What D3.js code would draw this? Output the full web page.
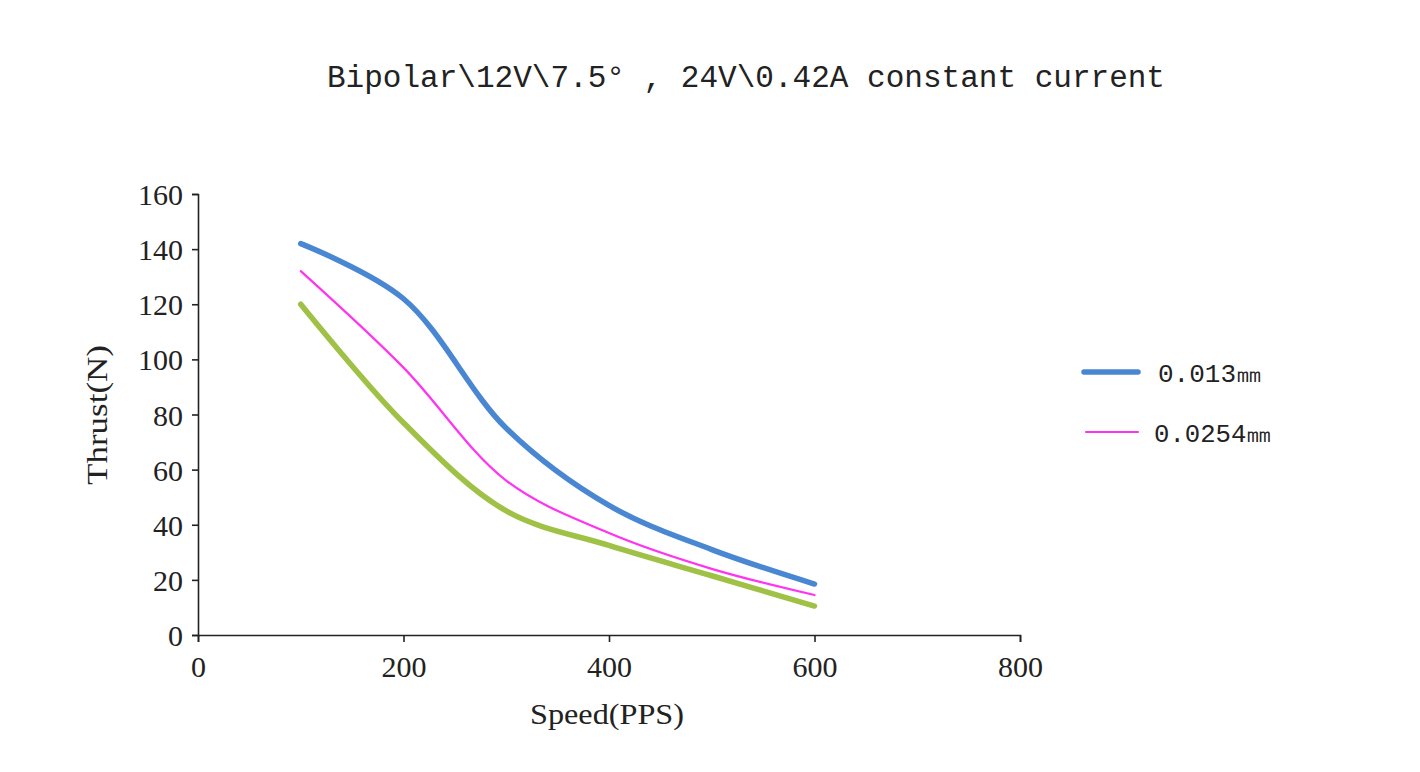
<!DOCTYPE html>
<html lang="en">
<head>
    <meta charset="UTF-8">
    <script src="https://d3js.org/d3.v7.min.js"></script>
    <style>
        body { margin: 0; background: #fff; }
        text { fill: #222; }
    </style>
</head>
<body>
    <svg width="1420" height="772"></svg>

    <script>
        // speed points (PPS) and thrust (N)
        let speeds = [100, 200, 300, 400, 500, 600];
        let thrust013 = [142, 122, 75, 47, 31, 18.5];
        let thrust0254 = [132, 97, 56, 37, 24, 14.5];
        let thrustGreen = [120, 77, 45, 32.5, 21.5, 10.5];
        let xTicks = [0, 200, 400, 600, 800];
        let yTicks = [0, 20, 40, 60, 80, 100, 120, 140, 160];
        let legendNames = ["0.013㎜", "0.0254㎜"];

        let svg = d3.select("svg");

        let x = d3.scaleLinear().domain([0, 800]).range([198, 1020]);
        let y = d3.scaleLinear().domain([0, 160]).range([635, 194]);

        // title
        svg.append("text")
            .attr("x", 746).attr("y", 87)
            .attr("text-anchor", "middle")
            .attr("textLength", 838)
            .attr("lengthAdjust", "spacingAndGlyphs")
            .style("font-family", "Liberation Mono")
            .style("font-size", "31px")
            .text("Bipolar\\12V\\7.5° , 24V\\0.42A constant current");

        // axes
        let xAxis = svg.append("g")
            .attr("transform", "translate(0," + y(0) + ")")
            .call(d3.axisBottom(x).tickValues(xTicks).tickSize(7).tickPadding(12));
        let yAxis = svg.append("g")
            .attr("transform", "translate(" + x(0) + ",0)")
            .call(d3.axisLeft(y).tickValues(yTicks).tickSize(6).tickPadding(9));

        [xAxis, yAxis].forEach(a => {
            a.selectAll("path, line").attr("stroke", "#222").attr("stroke-width", 1.6);
            a.selectAll("text")
                .attr("fill", "#222")
                .style("font-family", "Liberation Serif")
                .style("font-size", "30px");
        });
        yAxis.selectAll("text").attr("dy", "0.35em");
        xAxis.selectAll("text").attr("dy", "0.75em");

        svg.append("text")
            .attr("x", 607).attr("y", 724)
            .attr("text-anchor", "middle")
            .attr("textLength", 154)
            .attr("lengthAdjust", "spacingAndGlyphs")
            .style("font-family", "Liberation Serif")
            .style("font-size", "29px")
            .text("Speed(PPS)");

        svg.append("text")
            .attr("transform", "translate(107,415) rotate(-90)")
            .attr("text-anchor", "middle")
            .attr("textLength", 140)
            .attr("lengthAdjust", "spacingAndGlyphs")
            .style("font-family", "Liberation Serif")
            .style("font-size", "29px")
            .text("Thrust(N)");

        // the three curves, smoothed like the spreadsheet lines
        let series = [
            { values: thrust013, color: "#4a87d2", width: 5.5 },
            { values: thrust0254, color: "#ff33f0", width: 2.2 },
            { values: thrustGreen, color: "#9fc145", width: 5.5 }
        ];

        let line = d3.line()
            .x((d, i) => x(speeds[i]))
            .y(d => y(d))
            .curve(d3.curveCatmullRom.alpha(0.5));

        svg.selectAll(".curve")
            .data(series)
            .enter()
            .append("path")
            .attr("class", "curve")
            .attr("fill", "none")
            .attr("stroke", d => d.color)
            .attr("stroke-width", d => d.width)
            .attr("stroke-linecap", "round")
            .attr("d", d => line(d.values));

        // legend (only the first two series are named)
        let legend = svg.selectAll(".legend")
            .data(legendNames)
            .enter()
            .append("g")
            .attr("class", "legend")
            .attr("transform", (d, i) => "translate(1084," + (372 + i * 60) + ")");

        legend.append("line")
            .attr("x1", (d, i) => i ? 2 : 0)
            .attr("x2", 54)
            .attr("stroke", (d, i) => series[i].color)
            .attr("stroke-width", (d, i) => series[i].width)
            .attr("stroke-linecap", "round");

        legend.append("text")
            .attr("x", (d, i) => i ? 70 : 74)
            .attr("dy", "0.38em")
            .attr("textLength", (d, i) => i ? 118 : 104)
            .attr("lengthAdjust", "spacingAndGlyphs")
            .style("font-family", "Liberation Mono")
            .style("font-size", "25px")
            .text(d => d);
    </script>
</body>
</html>
